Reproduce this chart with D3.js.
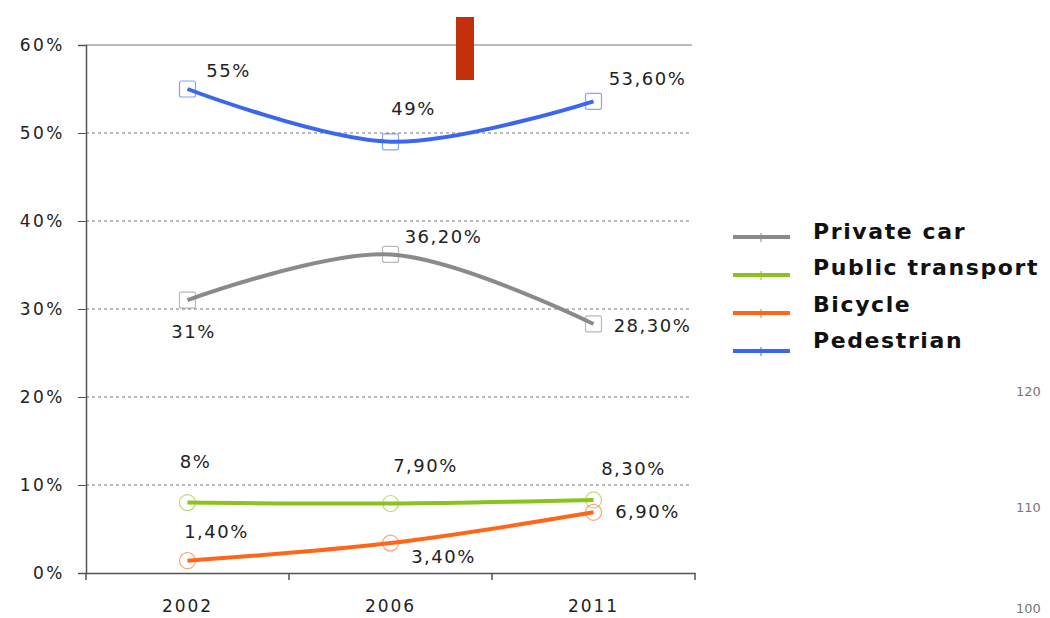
<!DOCTYPE html>
<html>
<head>
<meta charset="utf-8">
<script src="https://cdn.jsdelivr.net/npm/d3@7"></script>
<style>
  body { margin: 0; background: #fff; }
  text { font-family: "DejaVu Sans", Verdana, sans-serif; }
</style>
</head>
<body>
<div id="chart"></div>
<script>
// values
var years = ["2002", "2006", "2011"];
var seriesNames = ["Private car", "Public transport", "Bicycle", "Pedestrian"];
var privateCar = [31, 36.2, 28.3];
var publicTransport = [8, 7.9, 8.3];
var bicycle = [1.4, 3.4, 6.9];
var pedestrian = [55, 49, 53.6];
var yTicks = [0, 10, 20, 30, 40, 50, 60];
var sideLabels = ["120", "110", "100"];

var colors = ["#8a8a8a", "#8cc21c", "#ff6619", "#3a66f0"];
var shapes = ["square", "circle", "circle", "square"];
// label offsets per series per point [dx, dy] relative to the point
var labelOffsets = [
  [[6, 33], [53, -16], [59, 3]],
  [[8, -40], [35, -36], [40, -30]],
  [[29, -28], [53, 15], [54, 1]],
  [[41, -17], [23, -32], [54, -21]]
];

var allSeries = [privateCar, publicTransport, bicycle, pedestrian];

var width = 1050, height = 618;
var svg = d3.select("#chart").append("svg")
  .attr("width", width).attr("height", height);

var x = d3.scaleBand().domain(years).range([86, 695]);
var y = d3.scaleLinear().domain([0, 60]).range([573, 45]);

function fmt(v) {
  if (Number.isInteger(v)) return v + "%";
  return v.toFixed(2).replace(".", ",") + "%";
}

// gridlines
svg.append("g").selectAll("line")
  .data(yTicks.filter(function(d) { return d > 0; }))
  .enter().append("line")
  .attr("x1", 86).attr("x2", 692)
  .attr("y1", function(d) { return y(d); })
  .attr("y2", function(d) { return y(d); })
  .attr("stroke", "#777")
  .attr("stroke-width", 1)
  .attr("stroke-dasharray", function(d) { return d == 60 ? null : "3,3"; });

// y axis
var yAxis = d3.axisLeft(y).tickValues(yTicks).tickSize(8).tickFormat(function(d) { return d + "%"; });
var gy = svg.append("g").attr("transform", "translate(86,0)").call(yAxis);
gy.select(".domain").attr("stroke", "#555").attr("stroke-width", 1.5);
gy.selectAll(".tick line").attr("stroke", "#555");
gy.selectAll(".tick text").attr("font-size", 17).attr("letter-spacing", 2.5)
  .attr("fill", "#222").attr("x", -21);

// x axis
var xAxis = d3.axisBottom(x).tickSize(0);
var gx = svg.append("g").attr("transform", "translate(0,573)").call(xAxis);
gx.select(".domain").attr("stroke", "#555").attr("stroke-width", 1.5);
gx.selectAll(".tick text").attr("font-size", 17).attr("letter-spacing", 2)
  .attr("fill", "#222").attr("dy", 36);
// boundary ticks
svg.append("g").selectAll("line")
  .data(years.map(function(d) { return x(d); }).concat([x.range()[1]]))
  .enter().append("line")
  .attr("x1", function(d) { return d; }).attr("x2", function(d) { return d; })
  .attr("y1", 573).attr("y2", 580)
  .attr("stroke", "#555").attr("stroke-width", 1.5);

var line = d3.line()
  .x(function(d, i) { return x(years[i]) + x.bandwidth() / 2; })
  .y(function(d) { return y(d); })
  .curve(d3.curveCatmullRom.alpha(0.5));

function drawMarker(g, cx, cy, shape, color, size) {
  if (shape == "square") {
    g.append("rect")
      .attr("x", cx - size / 2).attr("y", cy - size / 2)
      .attr("width", size).attr("height", size)
      .attr("rx", 2)
      .attr("fill", "none").attr("stroke", color).attr("stroke-opacity", 0.6).attr("stroke-width", 1.2);
  } else {
    g.append("circle")
      .attr("cx", cx).attr("cy", cy).attr("r", size / 2)
      .attr("fill", "none").attr("stroke", color).attr("stroke-opacity", 0.6).attr("stroke-width", 1.2);
  }
}

allSeries.forEach(function(vals, s) {
  var g = svg.append("g");
  g.append("path")
    .datum(vals)
    .attr("d", line)
    .attr("fill", "none")
    .attr("stroke", colors[s])
    .attr("stroke-width", 4);
  vals.forEach(function(v, i) {
    var cx = x(years[i]) + x.bandwidth() / 2, cy = y(v);
    drawMarker(g, cx, cy, shapes[s], colors[s], 16);
    g.append("text")
      .attr("x", cx + labelOffsets[s][i][0])
      .attr("y", cy + labelOffsets[s][i][1])
      .attr("text-anchor", "middle")
      .attr("dominant-baseline", "middle")
      .attr("font-size", 18)
      .attr("letter-spacing", 1.5)
      .attr("fill", "#222")
      .text(fmt(v));
  });
});

// red block at top
svg.append("rect")
  .attr("x", 456).attr("y", 17).attr("width", 18).attr("height", 63)
  .attr("fill", "#c4300c");

// legend
var legend = svg.append("g").attr("transform", "translate(733,0)");
seriesNames.forEach(function(name, i) {
  var ly = 237 + i * 38;
  legend.append("line")
    .attr("x1", 0).attr("x2", 57).attr("y1", ly).attr("y2", ly)
    .attr("stroke", colors[i]).attr("stroke-width", 4);
  legend.append("line")
    .attr("x1", 28).attr("x2", 28).attr("y1", ly - 4).attr("y2", ly + 5)
    .attr("stroke", colors[i]).attr("stroke-opacity", 0.5).attr("stroke-width", 2);
  legend.append("text")
    .attr("x", 80).attr("y", 233 + i * 36.3)
    .attr("dominant-baseline", "middle")
    .attr("font-size", 22)
    .attr("font-weight", "bold")
    .attr("letter-spacing", 1.6)
    .attr("fill", "#111")
    .text(name);
});

// stray axis labels from a neighbouring chart on the right
svg.append("g").selectAll("text")
  .data(sideLabels)
  .enter().append("text")
  .attr("x", 1016)
  .attr("y", function(d, i) { return [392, 508, 609][i]; })
  .attr("dominant-baseline", "middle")
  .attr("font-size", 13)
  .attr("fill", "#777")
  .text(function(d) { return d; });
</script>
</body>
</html>
